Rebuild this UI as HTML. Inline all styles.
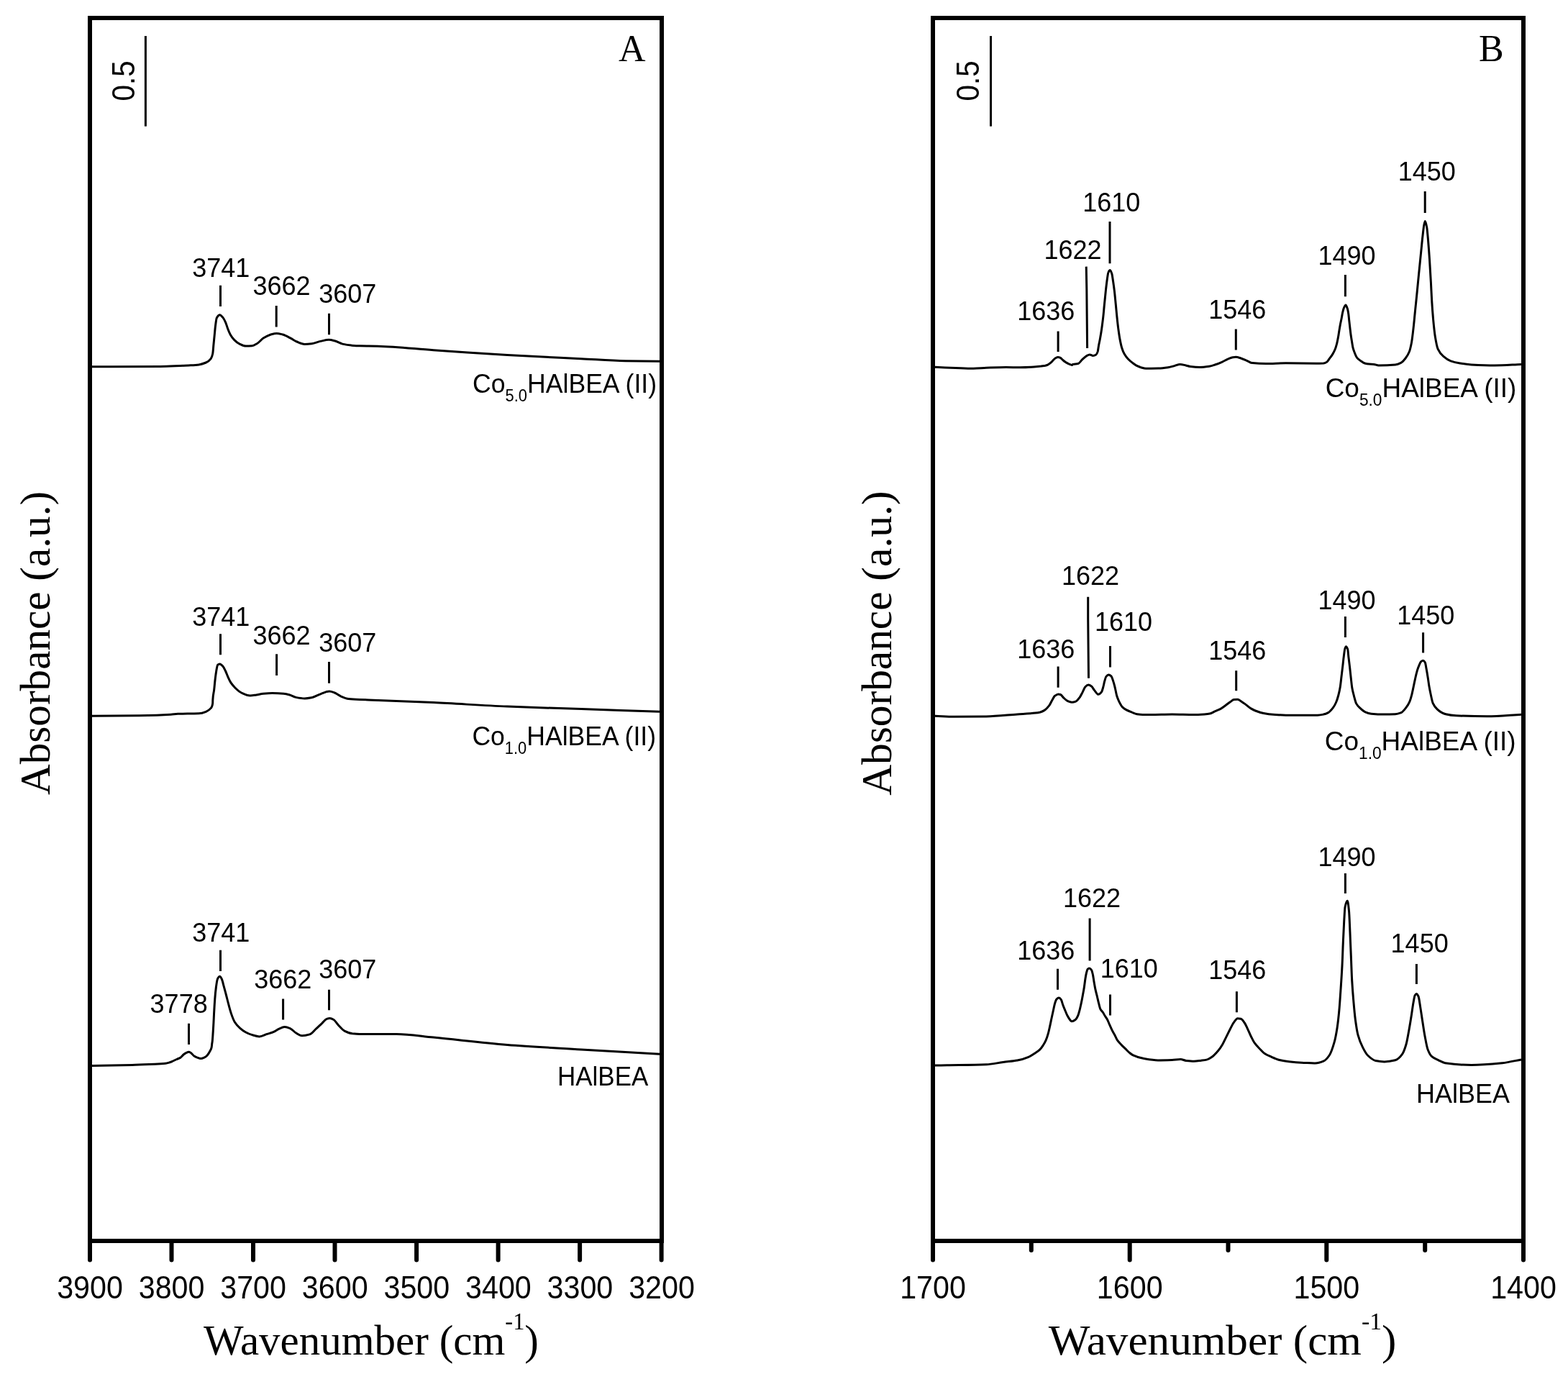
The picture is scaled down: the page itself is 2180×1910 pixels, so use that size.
<!DOCTYPE html>
<html><head><meta charset="utf-8"><title>IR spectra</title>
<style>
html,body{margin:0;padding:0;background:#fff;}
svg{display:block;}
.sans{font-family:"Liberation Sans",Arial,sans-serif;}
.serif{font-family:"Liberation Serif","Times New Roman",serif;}
</style></head><body>
<svg width="2180" height="1910" viewBox="0 0 2180 1910">
<rect x="0" y="0" width="2180" height="1910" fill="#fff"/>
<rect x="125" y="25" width="795" height="1700" fill="none" stroke="#000" stroke-width="6" stroke-linejoin="miter"/>
<rect x="1297" y="25" width="821" height="1700" fill="none" stroke="#000" stroke-width="6" stroke-linejoin="miter"/>
<path d="M125.0,1725V1751.5M238.5,1725V1751.5M352.0,1725V1751.5M465.5,1725V1751.5M579.1,1725V1751.5M692.6,1725V1751.5M806.1,1725V1751.5M919.6,1725V1751.5M1297.0,1725V1751.5M1570.7,1725V1751.5M1844.3,1725V1751.5M2118.0,1725V1751.5M1433.8,1725V1738M1707.5,1725V1738M1981.2,1725V1738" stroke="#000" stroke-width="6" stroke-linecap="round" fill="none"/>
<path d="M202.4,50V175.6" stroke="#000" stroke-width="3" fill="none"/>
<path d="M1377.5,50V175.6" stroke="#000" stroke-width="3" fill="none"/>
<path d="M306.5,396.7L306.5,426.0M384.2,425.0L384.2,454.4M457.5,435.8L457.5,465.2M306.5,881.2L306.5,910.2M384.6,909.2L384.6,939.0M457.5,920.0L457.5,949.7M262.5,1422.8L262.5,1452.1M306.5,1320.7L306.5,1350.0M393.6,1388.6L393.6,1417.5M457.5,1375.8L457.5,1404.2M1471.1,460.6L1471.1,489.0M1510.2,370.6L1510.8,401.9L1511.6,484.0M1543.0,308.0L1543.0,366.3M1718.3,457.4L1718.3,486.5M1870.4,382.1L1870.4,412.2M1981.2,265.9L1981.2,296.0M1471.1,926.5L1471.1,955.8M1512.7,829.7L1512.7,860.0L1513.5,942.7M1543.5,898.1L1543.5,927.5M1718.7,932.3L1718.7,960.3M1870.4,857.0L1870.4,886.0M1978.6,879.2L1978.6,907.6M1470.5,1346.8L1470.5,1375.7M1515.1,1276.4L1515.1,1335.6M1543.5,1382.6L1543.5,1411.5M1719.4,1378.3L1719.4,1407.3M1870.4,1214.1L1870.4,1242.1M1969.4,1340.0L1969.4,1367.9" stroke="#000" stroke-width="3" fill="none"/>
<path d="M128.0,509.8C159.6,509.7 191.2,509.7 222.8,509.4C231.9,509.3 240.9,508.9 250.0,508.6C254.1,508.4 258.1,508.2 262.2,508.0C267.0,507.7 271.8,507.5 276.6,506.9C279.9,506.5 283.1,505.4 286.4,504.0C288.7,503.0 290.9,501.7 293.2,498.6C294.0,497.5 294.9,495.5 295.7,491.7C296.2,489.6 296.6,482.3 297.1,477.5C297.5,473.4 297.9,469.3 298.3,465.2C298.7,461.1 299.1,456.1 299.5,453.0C300.1,448.3 300.7,443.1 301.3,442.0C302.7,439.3 304.2,437.7 305.6,437.7C307.0,437.7 308.5,439.7 309.9,441.4C311.1,442.9 312.4,445.3 313.6,448.1C314.6,450.3 315.6,454.1 316.6,456.7C317.8,459.9 319.1,463.1 320.3,465.2C322.1,468.4 324.0,470.8 325.8,472.6C328.2,475.0 330.7,476.9 333.1,478.1C336.0,479.5 338.8,481.1 341.7,481.1C344.5,481.1 347.4,481.0 350.2,480.8C352.7,480.6 355.1,478.9 357.6,477.5C360.4,475.8 363.3,471.9 366.1,470.1C369.4,468.0 372.6,466.2 375.9,465.2C378.8,464.4 381.6,463.4 384.5,463.4C387.3,463.4 390.2,464.3 393.0,465.0C396.7,466.0 400.3,468.2 404.0,470.1C406.9,471.6 409.7,473.8 412.6,475.0C416.3,476.5 419.9,478.4 423.6,478.4C426.9,478.4 430.1,478.1 433.4,477.7C437.5,477.2 441.5,475.3 445.6,474.4C449.5,473.6 453.3,472.3 457.2,472.3C459.9,472.3 462.5,473.1 465.2,473.8C468.9,474.7 472.5,477.2 476.2,478.1C480.3,479.0 484.3,479.7 488.4,480.1C492.3,480.4 496.1,480.7 500.0,480.8C508.3,481.0 516.7,481.0 525.0,481.2C550.9,481.8 576.8,484.9 602.7,486.7C636.9,489.0 671.2,491.5 705.4,493.5C739.6,495.5 773.8,497.0 808.0,498.7C828.6,499.7 849.1,501.4 869.7,501.7C885.5,502.0 901.2,502.0 917.0,502.2" stroke="#000" stroke-width="3" fill="none" stroke-linejoin="round"/>
<path d="M128.0,995.3C149.8,995.1 171.7,995.0 193.5,994.7C201.6,994.6 209.8,994.4 217.9,994.2C224.4,994.0 231.0,993.7 237.5,993.3C240.7,993.1 244.0,992.4 247.2,992.3C257.0,992.0 266.8,992.2 276.6,991.8C279.9,991.7 283.1,990.6 286.4,989.3C288.7,988.4 290.9,987.2 293.2,984.4C294.0,983.4 294.9,983.4 295.7,977.6C295.7,977.4 295.8,973.8 295.8,973.3C296.4,962.9 297.1,964.3 297.7,958.7C298.1,955.2 298.5,950.0 298.9,946.5C299.5,941.3 300.1,936.4 300.7,933.0C301.3,929.4 302.0,925.0 302.6,924.4C303.6,923.4 304.6,922.9 305.6,922.9C307.0,922.9 308.5,924.7 309.9,926.3C311.1,927.7 312.4,930.5 313.6,933.0C314.8,935.5 316.0,939.0 317.2,941.6C318.4,944.3 319.7,947.0 320.9,948.9C322.9,952.0 325.0,954.2 327.0,956.2C329.9,959.0 332.7,961.6 335.6,963.0C339.7,964.9 343.7,967.0 347.8,967.0C350.7,967.0 353.5,966.4 356.4,966.0C359.6,965.5 362.9,964.5 366.1,964.2C370.2,963.9 374.3,963.6 378.4,963.6C383.7,963.6 389.0,963.8 394.3,964.2C397.1,964.4 400.0,965.2 402.8,966.0C405.7,966.8 408.5,968.8 411.4,969.4C415.5,970.2 419.5,970.9 423.6,970.9C426.9,970.9 430.1,970.3 433.4,969.7C437.5,969.0 441.5,966.2 445.6,964.8C449.7,963.4 453.7,961.1 457.8,961.1C460.3,961.1 462.7,962.1 465.2,963.0C468.0,964.0 470.9,966.6 473.7,967.8C477.4,969.4 481.0,971.1 484.7,971.5C489.8,972.0 494.9,972.2 500.0,972.4C508.3,972.8 516.7,973.1 525.0,973.4C550.9,974.4 576.8,975.4 602.7,976.6C636.9,978.2 671.2,980.7 705.4,982.1C739.6,983.5 773.8,984.4 808.0,985.6C844.3,986.8 880.7,988.1 917.0,989.3" stroke="#000" stroke-width="3" fill="none" stroke-linejoin="round"/>
<path d="M128.0,1481.5C146.6,1481.2 165.1,1481.0 183.7,1480.5C189.1,1480.4 194.6,1480.0 200.0,1479.8C205.0,1479.6 210.1,1479.5 215.1,1479.3C220.1,1479.1 225.1,1478.9 230.1,1478.3C231.7,1478.1 233.4,1477.6 235.0,1477.1C236.8,1476.6 238.5,1475.8 240.3,1475.0C242.1,1474.2 243.9,1473.3 245.7,1472.5C247.5,1471.7 249.3,1471.2 251.1,1470.1C252.5,1469.2 254.0,1466.9 255.4,1465.8C256.7,1464.8 257.9,1464.0 259.2,1463.4C260.3,1462.9 261.3,1462.3 262.4,1462.3C263.5,1462.3 264.5,1463.1 265.6,1463.7C267.0,1464.6 268.5,1467.1 269.9,1468.0C271.3,1468.9 272.8,1469.6 274.2,1470.1C275.8,1470.7 277.5,1471.5 279.1,1471.5C280.7,1471.5 282.3,1470.8 283.9,1470.1C285.3,1469.5 286.8,1468.4 288.2,1466.9C289.5,1465.6 290.7,1463.4 292.0,1461.0C292.7,1459.7 293.4,1458.9 294.1,1456.1C294.4,1455.1 294.6,1451.3 294.9,1449.7C295.0,1449.3 295.0,1449.1 295.1,1448.7C295.6,1445.2 296.2,1434.9 296.7,1426.1C297.1,1420.0 297.4,1411.1 297.8,1404.6C298.1,1398.7 298.5,1392.6 298.8,1388.4C299.3,1381.7 299.9,1376.1 300.4,1372.3C301.1,1367.1 301.9,1361.8 302.6,1360.4C303.6,1358.6 304.6,1357.2 305.6,1357.2C306.6,1357.2 307.5,1359.5 308.5,1361.5C309.4,1363.4 310.3,1367.9 311.2,1371.2C312.3,1375.1 313.3,1379.0 314.4,1383.0C315.5,1387.2 316.6,1391.8 317.7,1395.9C318.9,1400.5 320.2,1405.3 321.4,1408.9C323.0,1413.6 324.7,1418.1 326.3,1420.7C328.8,1424.7 331.3,1427.1 333.8,1429.3C336.3,1431.5 338.8,1433.3 341.3,1434.7C344.2,1436.3 347.0,1437.5 349.9,1438.4C353.5,1439.5 357.1,1440.9 360.7,1440.9C364.3,1440.9 367.8,1438.5 371.4,1437.4C374.3,1436.5 377.1,1435.9 380.0,1434.7C382.5,1433.7 385.1,1431.5 387.6,1430.4C390.3,1429.2 393.0,1427.6 395.7,1427.6C398.4,1427.6 401.0,1428.7 403.7,1429.8C406.2,1430.8 408.8,1434.3 411.3,1435.8C414.2,1437.5 417.0,1439.8 419.9,1439.8C423.5,1439.8 427.0,1439.0 430.6,1437.9C433.5,1437.0 436.3,1433.0 439.2,1430.4C442.1,1427.8 444.9,1424.9 447.8,1422.3C450.0,1420.3 452.1,1417.1 454.3,1416.4C455.7,1415.9 457.2,1415.5 458.6,1415.5C460.4,1415.5 462.2,1416.5 464.0,1417.5C466.1,1418.7 468.3,1422.8 470.4,1425.0C473.3,1428.0 476.1,1431.6 479.0,1433.1C482.6,1434.9 486.2,1436.4 489.8,1436.8C493.2,1437.1 496.6,1437.4 500.0,1437.4C508.3,1437.5 516.7,1437.5 525.0,1437.5C533.8,1437.5 542.5,1437.4 551.3,1437.4C568.4,1437.4 585.6,1440.5 602.7,1442.1C636.9,1445.4 671.2,1449.7 705.4,1452.4C739.6,1455.1 773.8,1456.8 808.0,1458.9C844.3,1461.1 880.7,1463.2 917.0,1465.3" stroke="#000" stroke-width="3" fill="none" stroke-linejoin="round"/>
<path d="M1300.0,510.3C1309.4,510.7 1318.9,511.1 1328.3,511.4C1336.6,511.7 1345.0,512.2 1353.3,512.2C1359.3,512.2 1365.3,511.5 1371.3,511.3C1380.4,511.0 1389.6,510.6 1398.7,510.6C1405.2,510.6 1411.8,510.8 1418.3,510.8C1423.5,510.8 1428.8,510.6 1434.0,510.3C1438.4,510.1 1442.8,509.5 1447.2,509.1C1448.7,508.9 1450.3,508.8 1451.8,508.6C1453.4,508.3 1455.1,507.8 1456.7,507.1C1458.0,506.5 1459.3,505.5 1460.6,504.4C1461.7,503.5 1462.9,502.1 1464.0,501.0C1465.1,499.9 1466.3,498.4 1467.4,497.8C1468.6,497.2 1469.7,496.5 1470.9,496.5C1472.0,496.5 1473.2,496.9 1474.3,497.4C1475.4,497.9 1476.6,499.6 1477.7,500.5C1479.0,501.6 1480.3,502.7 1481.6,503.5C1483.1,504.4 1484.5,505.3 1486.0,505.9C1487.5,506.5 1489.0,507.4 1490.5,507.4C1490.9,507.4 1491.4,506.5 1491.8,506.4C1494.2,505.8 1496.5,506.1 1498.9,505.5C1500.7,505.1 1502.5,501.9 1504.3,500.2C1506.4,498.3 1508.4,495.9 1510.5,494.8C1512.0,494.0 1513.5,493.0 1515.0,493.0C1516.5,493.0 1518.0,494.4 1519.5,494.4C1521.0,494.4 1522.4,493.9 1523.9,493.0C1524.7,492.5 1525.4,491.0 1526.2,488.6C1526.6,487.3 1527.1,482.9 1527.5,480.5C1528.1,477.2 1528.7,474.9 1529.3,471.6C1530.0,467.6 1530.8,463.2 1531.5,458.2C1532.3,453.0 1533.0,447.3 1533.8,440.4C1534.4,435.3 1534.9,428.3 1535.5,422.5C1536.1,416.4 1536.7,410.1 1537.3,404.6C1537.9,399.1 1538.5,393.7 1539.1,389.5C1539.7,385.3 1540.3,380.1 1540.9,378.8C1541.7,376.9 1542.6,375.5 1543.4,375.5C1544.2,375.5 1545.0,378.0 1545.8,380.5C1546.4,382.4 1547.0,387.3 1547.6,391.3C1548.2,395.3 1548.8,399.5 1549.4,404.6C1550.0,409.7 1550.6,416.4 1551.2,422.5C1551.8,428.3 1552.3,434.9 1552.9,440.4C1553.5,446.2 1554.1,451.8 1554.7,456.4C1555.5,462.2 1556.2,467.5 1557.0,471.6C1557.9,476.2 1558.7,480.4 1559.6,483.2C1560.8,487.1 1562.0,490.0 1563.2,492.1C1565.0,495.3 1566.8,497.4 1568.6,499.3C1570.7,501.5 1572.7,503.0 1574.8,504.6C1576.5,505.9 1578.3,507.3 1580.0,508.2C1582.3,509.4 1584.7,510.4 1587.0,511.0C1589.1,511.6 1591.1,512.3 1593.2,512.3C1599.1,512.3 1604.9,512.2 1610.8,512.1C1615.2,512.0 1619.6,511.4 1624.0,510.8C1626.9,510.4 1629.9,509.4 1632.8,508.6C1635.4,507.9 1638.1,506.4 1640.7,506.4C1643.4,506.4 1646.0,507.4 1648.7,508.0C1650.7,508.5 1652.8,509.3 1654.8,509.5C1659.2,510.0 1663.6,510.4 1668.0,510.4C1672.4,510.4 1676.8,509.8 1681.2,509.2C1684.1,508.8 1687.1,507.7 1690.0,506.8C1692.9,505.9 1695.9,504.6 1698.8,503.3C1701.7,502.0 1704.7,500.1 1707.6,498.9C1709.7,498.1 1711.7,497.0 1713.8,496.7C1715.3,496.5 1716.7,496.3 1718.2,496.3C1720.5,496.3 1722.9,497.3 1725.2,498.0C1728.1,498.9 1731.1,500.4 1734.0,501.6C1736.4,502.6 1738.7,504.4 1741.1,504.6C1747.4,505.2 1753.7,505.5 1760.0,505.5C1769.2,505.5 1778.4,504.8 1787.6,504.8C1801.7,504.8 1815.9,505.2 1830.0,505.2C1833.3,505.2 1836.7,505.1 1840.0,505.0C1841.6,504.9 1843.1,504.1 1844.7,503.2C1846.1,502.4 1847.4,499.7 1848.8,497.9C1850.2,496.1 1851.5,494.4 1852.9,492.1C1854.1,490.1 1855.2,488.0 1856.4,485.0C1857.2,483.0 1857.9,480.4 1858.7,477.4C1859.3,475.0 1859.9,471.9 1860.5,468.6C1861.0,466.0 1861.4,462.6 1861.9,459.8C1862.4,456.8 1862.9,453.7 1863.4,451.0C1864.0,447.8 1864.6,445.3 1865.2,442.2C1865.7,439.8 1866.1,436.7 1866.6,434.6C1867.1,432.3 1867.6,430.0 1868.1,428.8C1869.1,426.5 1870.0,424.1 1871.0,424.1C1871.8,424.1 1872.6,426.8 1873.4,429.3C1873.9,430.8 1874.3,433.2 1874.8,436.4C1875.1,438.5 1875.4,442.4 1875.7,445.2C1876.1,448.9 1876.5,452.3 1876.9,455.7C1877.3,459.1 1877.7,462.8 1878.1,465.7C1878.6,469.1 1879.0,471.7 1879.5,474.5C1880.0,477.5 1880.5,481.3 1881.0,483.3C1881.8,486.4 1882.5,488.3 1883.3,490.3C1884.3,492.9 1885.3,495.5 1886.3,496.8C1888.0,499.1 1889.8,500.1 1891.5,501.4C1893.5,502.8 1895.4,504.4 1897.4,505.0C1899.4,505.6 1901.3,506.0 1903.3,506.1C1905.5,506.3 1907.8,506.2 1910.0,506.4C1912.2,506.6 1914.5,508.0 1916.7,508.0C1924.5,508.0 1932.2,507.7 1940.0,507.0C1942.6,506.8 1945.1,505.7 1947.7,504.4C1949.8,503.3 1952.0,500.7 1954.1,498.0C1955.8,495.8 1957.6,493.3 1959.3,489.0C1960.4,486.3 1961.4,481.9 1962.5,476.2C1963.3,471.8 1964.2,464.1 1965.0,456.9C1965.9,449.4 1966.7,439.8 1967.6,431.2C1968.5,422.6 1969.3,414.2 1970.2,405.5C1971.0,397.1 1971.9,388.3 1972.7,379.9C1973.6,371.2 1974.4,362.8 1975.3,354.2C1976.2,345.6 1977.0,336.2 1977.9,328.5C1978.5,322.9 1979.2,316.3 1979.8,313.1C1980.3,310.6 1980.8,307.5 1981.3,307.5C1982.1,307.5 1982.9,311.5 1983.7,315.7C1984.3,319.0 1985.0,327.6 1985.6,334.9C1986.2,342.2 1986.9,351.1 1987.5,360.6C1988.1,370.1 1988.8,381.1 1989.4,392.7C1989.8,400.6 1990.3,411.4 1990.7,418.4C1991.3,428.7 1992.0,437.2 1992.6,444.1C1993.5,453.5 1994.3,461.8 1995.2,467.2C1996.5,475.2 1997.8,482.2 1999.1,485.1C2001.7,490.8 2004.2,493.2 2006.8,495.4C2010.2,498.4 2013.6,500.6 2017.0,501.8C2021.3,503.4 2025.7,504.3 2030.0,505.0C2035.2,505.9 2040.5,506.6 2045.7,506.9C2056.5,507.5 2067.2,508.0 2078.0,508.0C2090.3,508.0 2102.7,507.0 2115.0,506.5" stroke="#000" stroke-width="3" fill="none" stroke-linejoin="round"/>
<path d="M1300.0,995.3C1308.8,995.6 1317.5,996.3 1326.3,996.3C1341.3,996.3 1356.3,996.1 1371.3,995.9C1385.7,995.7 1400.0,994.0 1414.4,993.0C1422.9,992.4 1431.5,992.1 1440.0,991.1C1442.1,990.9 1444.2,990.5 1446.3,990.0C1448.1,989.5 1449.9,988.7 1451.7,987.6C1454.1,986.2 1456.4,983.7 1458.8,980.6C1460.1,978.9 1461.4,975.7 1462.7,973.5C1464.0,971.3 1465.3,968.3 1466.6,967.3C1468.2,966.1 1469.7,964.9 1471.3,964.9C1472.3,964.9 1473.4,965.2 1474.4,965.5C1476.0,966.0 1477.5,969.0 1479.1,970.4C1480.9,972.0 1482.8,973.9 1484.6,974.7C1486.4,975.5 1488.3,976.3 1490.1,976.3C1491.9,976.3 1493.8,975.8 1495.6,975.1C1497.4,974.5 1499.2,972.0 1501.0,969.6C1502.3,967.9 1503.6,965.0 1504.9,962.6C1506.2,960.1 1507.6,956.0 1508.9,954.7C1510.3,953.3 1511.8,952.0 1513.2,952.0C1514.6,952.0 1516.1,953.0 1517.5,954.0C1518.8,954.9 1520.1,957.8 1521.4,959.4C1523.2,961.6 1525.1,965.3 1526.9,965.3C1528.4,965.3 1530.0,963.8 1531.5,961.8C1532.3,960.8 1533.1,957.6 1533.9,954.7C1534.4,952.8 1535.0,949.7 1535.5,947.7C1536.3,944.9 1537.0,941.6 1537.8,940.6C1539.0,939.1 1540.1,937.9 1541.3,937.9C1542.5,937.9 1543.7,938.8 1544.9,939.9C1545.9,940.9 1547.0,944.6 1548.0,947.7C1548.8,950.0 1549.5,953.1 1550.3,956.3C1551.1,959.6 1551.9,964.7 1552.7,967.3C1553.7,970.7 1554.8,973.0 1555.8,975.1C1557.4,978.3 1558.9,981.3 1560.5,982.9C1562.1,984.5 1563.6,985.5 1565.2,986.4C1567.8,987.9 1570.4,988.9 1573.0,989.9C1575.6,990.9 1578.2,992.3 1580.8,992.7C1583.4,993.1 1586.1,993.5 1588.7,993.5C1592.5,993.5 1596.2,993.5 1600.0,993.5C1609.8,993.5 1619.7,993.0 1629.5,993.0C1639.7,993.0 1649.8,993.5 1660.0,993.5C1664.7,993.5 1669.4,993.2 1674.1,992.9C1676.7,992.7 1679.4,992.5 1682.0,992.0C1684.3,991.6 1686.7,989.9 1689.0,988.9C1691.7,987.7 1694.3,986.8 1697.0,985.4C1699.3,984.1 1701.7,982.2 1704.0,980.5C1706.4,978.8 1708.7,976.7 1711.1,975.2C1712.6,974.2 1714.0,972.8 1715.5,972.6C1717.2,972.4 1719.0,972.3 1720.7,972.3C1722.5,972.3 1724.2,974.1 1726.0,975.2C1728.1,976.5 1730.1,978.1 1732.2,979.6C1734.5,981.3 1736.9,983.5 1739.2,984.9C1741.3,986.1 1743.3,987.2 1745.4,988.0C1749.2,989.5 1753.0,990.8 1756.8,991.5C1761.2,992.3 1765.6,993.0 1770.0,993.3C1775.9,993.7 1781.7,994.2 1787.6,994.2C1794.9,994.2 1802.3,994.2 1809.6,994.2C1817.0,994.2 1824.3,994.2 1831.7,994.2C1834.5,994.2 1837.2,993.7 1840.0,993.1C1842.2,992.7 1844.5,991.8 1846.7,990.6C1848.9,989.4 1851.1,986.8 1853.3,983.9C1854.7,982.1 1856.1,979.7 1857.5,976.5C1858.6,974.0 1859.7,970.6 1860.8,966.5C1861.6,963.4 1862.5,959.9 1863.3,954.8C1863.8,951.5 1864.4,945.9 1864.9,941.5C1865.5,936.8 1866.0,932.2 1866.6,927.4C1867.2,922.6 1867.7,916.7 1868.3,912.4C1868.8,908.3 1869.4,903.2 1869.9,901.6C1870.4,900.1 1870.9,898.7 1871.4,898.7C1872.2,898.7 1872.9,900.2 1873.7,902.5C1874.1,903.7 1874.5,909.8 1874.9,913.3C1875.5,918.2 1876.0,922.4 1876.6,927.4C1877.1,932.1 1877.7,937.7 1878.2,942.4C1878.8,947.4 1879.3,953.2 1879.9,956.5C1880.7,961.3 1881.6,964.2 1882.4,967.3C1883.5,971.4 1884.6,976.1 1885.7,978.1C1887.6,981.6 1889.6,983.0 1891.5,984.8C1893.7,986.8 1896.0,988.9 1898.2,989.8C1901.0,991.0 1903.7,991.9 1906.5,992.2C1912.0,992.7 1917.6,993.1 1923.1,993.1C1928.7,993.1 1934.2,993.0 1939.8,992.7C1942.6,992.6 1945.3,991.7 1948.1,990.6C1950.3,989.7 1952.5,986.7 1954.7,983.9C1956.4,981.8 1958.0,979.4 1959.7,975.6C1960.8,973.1 1961.9,969.1 1963.0,964.8C1963.8,961.6 1964.7,957.1 1965.5,953.2C1966.3,949.3 1967.2,945.1 1968.0,941.5C1968.8,937.9 1969.7,934.3 1970.5,931.6C1971.3,928.9 1972.2,926.8 1973.0,924.9C1973.8,923.0 1974.7,920.6 1975.5,919.9C1976.5,919.1 1977.4,918.3 1978.4,918.3C1979.4,918.3 1980.3,919.3 1981.3,920.8C1981.9,921.7 1982.4,926.1 1983.0,929.1C1983.7,932.8 1984.4,937.1 1985.1,941.5C1985.8,945.7 1986.4,951.0 1987.1,954.8C1987.9,959.6 1988.8,963.6 1989.6,967.3C1990.4,971.0 1991.3,975.4 1992.1,977.3C1994.0,981.6 1996.0,983.7 1997.9,985.6C2000.1,987.8 2002.4,989.5 2004.6,990.6C2006.4,991.5 2008.2,992.3 2010.0,992.7C2014.7,993.8 2019.5,994.5 2024.2,994.7C2038.6,995.4 2052.9,995.8 2067.3,995.8C2083.2,995.8 2099.1,994.1 2115.0,993.2" stroke="#000" stroke-width="3" fill="none" stroke-linejoin="round"/>
<path d="M1300.0,1481.0C1305.5,1480.9 1311.1,1480.9 1316.6,1480.8C1334.8,1480.5 1353.1,1480.5 1371.3,1479.8C1379.1,1479.5 1387.0,1477.5 1394.8,1476.5C1401.3,1475.6 1407.9,1475.3 1414.4,1474.1C1419.6,1473.2 1424.8,1471.6 1430.0,1469.4C1432.6,1468.3 1435.2,1466.4 1437.8,1464.7C1440.4,1463.0 1443.0,1461.7 1445.6,1459.2C1447.2,1457.7 1448.7,1455.4 1450.3,1453.0C1451.6,1451.0 1452.9,1448.9 1454.2,1445.9C1455.2,1443.5 1456.3,1440.3 1457.3,1436.6C1458.1,1433.8 1458.9,1430.0 1459.7,1426.4C1460.5,1423.0 1461.2,1419.1 1462.0,1415.5C1462.8,1411.8 1463.6,1408.1 1464.4,1404.5C1465.2,1401.1 1465.9,1396.7 1466.7,1394.4C1467.5,1392.0 1468.3,1389.7 1469.1,1388.9C1470.1,1387.9 1471.2,1387.0 1472.2,1387.0C1473.2,1387.0 1474.3,1388.3 1475.3,1389.7C1476.1,1390.8 1476.9,1394.5 1477.7,1396.7C1478.7,1399.5 1479.8,1402.1 1480.8,1404.5C1482.1,1407.6 1483.4,1411.0 1484.7,1413.1C1486.5,1416.0 1488.4,1419.8 1490.2,1419.8C1491.7,1419.8 1493.3,1418.9 1494.8,1417.8C1496.1,1416.9 1497.5,1414.5 1498.8,1411.6C1499.6,1409.9 1500.3,1406.7 1501.1,1403.8C1501.9,1400.9 1502.6,1397.2 1503.4,1393.6C1504.1,1390.4 1504.7,1387.0 1505.4,1383.4C1506.0,1380.0 1506.7,1376.6 1507.3,1372.5C1507.8,1369.1 1508.4,1364.1 1508.9,1360.8C1509.4,1357.5 1510.0,1354.3 1510.5,1352.2C1511.0,1350.2 1511.5,1348.1 1512.0,1347.5C1512.8,1346.6 1513.6,1345.9 1514.4,1345.9C1515.4,1345.9 1516.5,1346.9 1517.5,1348.3C1518.2,1349.2 1518.8,1352.3 1519.5,1355.3C1520.0,1357.6 1520.5,1361.8 1521.0,1364.7C1521.7,1368.6 1522.3,1372.5 1523.0,1375.6C1523.8,1379.2 1524.5,1381.8 1525.3,1385.0C1526.1,1388.3 1526.9,1392.2 1527.7,1395.2C1528.5,1398.1 1529.2,1401.6 1530.0,1403.0C1531.0,1404.9 1532.1,1405.4 1533.1,1406.9C1534.2,1408.4 1535.2,1410.6 1536.3,1412.3C1537.3,1414.0 1538.4,1415.1 1539.4,1417.0C1540.4,1418.9 1541.5,1421.8 1542.5,1424.1C1543.8,1427.0 1545.1,1430.1 1546.4,1432.7C1547.7,1435.3 1549.0,1437.2 1550.3,1439.7C1551.3,1441.7 1552.4,1444.4 1553.4,1445.9C1555.2,1448.6 1557.1,1450.2 1558.9,1452.2C1560.7,1454.2 1562.6,1455.9 1564.4,1457.7C1566.3,1459.5 1568.1,1461.5 1570.0,1463.1C1571.6,1464.4 1573.2,1465.9 1574.8,1466.7C1580.0,1469.2 1585.2,1470.7 1590.4,1471.6C1596.9,1472.7 1603.5,1473.9 1610.0,1473.9C1616.5,1473.9 1623.0,1473.7 1629.5,1473.5C1633.4,1473.4 1637.4,1472.5 1641.3,1472.5C1643.9,1472.5 1646.5,1474.2 1649.1,1474.5C1652.7,1474.9 1656.4,1475.3 1660.0,1475.3C1662.9,1475.3 1665.9,1474.8 1668.8,1474.4C1671.7,1474.0 1674.7,1473.8 1677.6,1473.1C1679.9,1472.6 1682.3,1471.1 1684.6,1469.5C1687.6,1467.5 1690.5,1464.2 1693.5,1460.7C1695.5,1458.3 1697.6,1455.3 1699.6,1451.9C1701.4,1448.9 1703.1,1444.9 1704.9,1441.4C1706.7,1437.9 1708.4,1434.2 1710.2,1430.8C1712.0,1427.4 1713.7,1423.4 1715.5,1421.1C1717.2,1418.8 1719.0,1415.8 1720.7,1415.8C1722.2,1415.8 1723.6,1416.0 1725.1,1416.3C1726.9,1416.7 1728.6,1419.5 1730.4,1422.0C1731.9,1424.1 1733.3,1427.7 1734.8,1430.8C1736.3,1433.9 1737.7,1437.6 1739.2,1440.5C1741.0,1444.0 1742.7,1447.7 1744.5,1450.2C1746.6,1453.1 1748.6,1455.1 1750.7,1457.2C1753.3,1459.9 1756.0,1463.0 1758.6,1464.7C1761.5,1466.6 1764.5,1467.8 1767.4,1469.1C1771.2,1470.8 1775.0,1472.6 1778.8,1473.5C1783.2,1474.5 1787.6,1475.2 1792.0,1475.7C1797.9,1476.4 1803.7,1477.0 1809.6,1477.3C1815.5,1477.6 1821.4,1477.5 1827.3,1477.9C1827.7,1477.9 1828.1,1478.1 1828.5,1478.1C1832.3,1478.1 1836.2,1476.8 1840.0,1475.2C1842.7,1474.1 1845.5,1471.0 1848.2,1467.0C1850.5,1463.7 1852.7,1457.2 1855.0,1449.2C1856.4,1444.4 1857.7,1437.6 1859.1,1428.7C1860.0,1422.6 1861.0,1414.2 1861.9,1404.1C1862.6,1396.9 1863.2,1386.7 1863.9,1376.8C1864.6,1366.4 1865.3,1356.5 1866.0,1342.6C1866.5,1333.4 1866.9,1319.0 1867.4,1308.4C1867.8,1298.6 1868.3,1288.5 1868.7,1281.0C1869.2,1272.9 1869.6,1262.7 1870.1,1260.5C1871.2,1255.4 1872.2,1252.3 1873.3,1252.3C1874.1,1252.3 1874.8,1259.3 1875.6,1267.4C1876.0,1272.0 1876.5,1284.9 1876.9,1294.7C1877.4,1305.2 1877.8,1317.5 1878.3,1328.9C1878.8,1340.3 1879.2,1354.8 1879.7,1363.1C1880.4,1375.0 1881.0,1382.6 1881.7,1390.4C1882.6,1401.0 1883.5,1411.0 1884.4,1417.8C1885.6,1426.6 1886.7,1433.9 1887.9,1438.3C1890.2,1446.9 1892.4,1451.6 1894.7,1456.1C1897.0,1460.6 1899.2,1464.8 1901.5,1467.0C1905.2,1470.6 1908.8,1473.8 1912.5,1474.5C1916.6,1475.3 1920.7,1475.9 1924.8,1475.9C1929.8,1475.9 1934.8,1475.1 1939.8,1473.8C1943.0,1473.0 1946.2,1469.9 1949.4,1465.6C1951.2,1463.2 1953.1,1458.2 1954.9,1452.0C1956.3,1447.4 1957.6,1439.0 1959.0,1431.5C1960.1,1425.3 1961.3,1418.0 1962.4,1410.9C1963.3,1405.2 1964.2,1398.0 1965.1,1393.2C1965.8,1389.5 1966.5,1384.8 1967.2,1383.6C1967.9,1382.5 1968.5,1381.5 1969.2,1381.5C1970.1,1381.5 1971.1,1383.1 1972.0,1385.0C1972.9,1386.8 1973.8,1394.6 1974.7,1400.0C1975.6,1405.4 1976.5,1412.0 1977.4,1417.8C1978.6,1425.3 1979.7,1433.4 1980.9,1439.7C1982.3,1447.0 1983.6,1455.2 1985.0,1458.8C1986.8,1463.5 1988.6,1466.8 1990.4,1468.4C1993.6,1471.3 1996.8,1472.3 2000.0,1473.8C2003.1,1475.3 2006.1,1477.2 2009.2,1477.7C2021.4,1479.5 2033.5,1480.5 2045.7,1480.5C2060.1,1480.5 2074.4,1479.1 2088.8,1477.7C2097.5,1476.8 2106.3,1474.5 2115.0,1472.9" stroke="#000" stroke-width="3" fill="none" stroke-linejoin="round"/>
<text class="sans" font-size="36" transform="translate(267.3,384.6)">3741</text>
<text class="sans" font-size="36" transform="translate(351.4,410.4)">3662</text>
<text class="sans" font-size="36" transform="translate(443.3,421.4)">3607</text>
<text class="sans" font-size="36" transform="translate(267.3,869.7)">3741</text>
<text class="sans" font-size="36" transform="translate(351.4,895.5)">3662</text>
<text class="sans" font-size="36" transform="translate(443.3,905.5)">3607</text>
<text class="sans" font-size="36" transform="translate(208.6,1408.3)">3778</text>
<text class="sans" font-size="36" transform="translate(267.3,1308.9)">3741</text>
<text class="sans" font-size="36" transform="translate(353.3,1373.5)">3662</text>
<text class="sans" font-size="36" transform="translate(443.3,1360.2)">3607</text>
<text class="sans" font-size="36" transform="translate(1414.3,444.6)">1636</text>
<text class="sans" font-size="36" transform="translate(1451.5,359.5)">1622</text>
<text class="sans" font-size="36" transform="translate(1505.3,293.5)">1610</text>
<text class="sans" font-size="36" transform="translate(1680.2,443.0)">1546</text>
<text class="sans" font-size="36" transform="translate(1832.5,367.7)">1490</text>
<text class="sans" font-size="36" transform="translate(1943.7,250.5)">1450</text>
<text class="sans" font-size="36" transform="translate(1414.3,915.3)">1636</text>
<text class="sans" font-size="36" transform="translate(1475.9,812.6)">1622</text>
<text class="sans" font-size="36" transform="translate(1521.9,876.8)">1610</text>
<text class="sans" font-size="36" transform="translate(1680.2,916.9)">1546</text>
<text class="sans" font-size="36" transform="translate(1832.5,846.5)">1490</text>
<text class="sans" font-size="36" transform="translate(1942.2,867.6)">1450</text>
<text class="sans" font-size="36" transform="translate(1414.3,1334.2)">1636</text>
<text class="sans" font-size="36" transform="translate(1477.9,1260.5)">1622</text>
<text class="sans" font-size="36" transform="translate(1529.7,1358.7)">1610</text>
<text class="sans" font-size="36" transform="translate(1680.2,1360.6)">1546</text>
<text class="sans" font-size="36" transform="translate(1832.5,1203.6)">1490</text>
<text class="sans" font-size="36" transform="translate(1933.6,1324.1)">1450</text>
<text class="sans" font-size="44" transform="translate(125.0,1804.6) scale(0.937,1)" text-anchor="middle">3900</text>
<text class="sans" font-size="44" transform="translate(238.6,1804.6) scale(0.937,1)" text-anchor="middle">3800</text>
<text class="sans" font-size="44" transform="translate(352.1,1804.6) scale(0.937,1)" text-anchor="middle">3700</text>
<text class="sans" font-size="44" transform="translate(465.7,1804.6) scale(0.937,1)" text-anchor="middle">3600</text>
<text class="sans" font-size="44" transform="translate(579.3,1804.6) scale(0.937,1)" text-anchor="middle">3500</text>
<text class="sans" font-size="44" transform="translate(692.9,1804.6) scale(0.937,1)" text-anchor="middle">3400</text>
<text class="sans" font-size="44" transform="translate(806.4,1804.6) scale(0.937,1)" text-anchor="middle">3300</text>
<text class="sans" font-size="44" transform="translate(920.0,1804.6) scale(0.937,1)" text-anchor="middle">3200</text>
<text class="sans" font-size="44" transform="translate(1297.0,1804.6) scale(0.937,1)" text-anchor="middle">1700</text>
<text class="sans" font-size="44" transform="translate(1570.7,1804.6) scale(0.937,1)" text-anchor="middle">1600</text>
<text class="sans" font-size="44" transform="translate(1844.3,1804.6) scale(0.937,1)" text-anchor="middle">1500</text>
<text class="sans" font-size="44" transform="translate(2118.0,1804.6) scale(0.937,1)" text-anchor="middle">1400</text>
<text class="sans" font-size="44" transform="translate(186.9,140.5) rotate(-90) scale(0.920,1)">0.5</text>
<text class="sans" font-size="44" transform="translate(1360.8,140.5) rotate(-90) scale(0.920,1)">0.5</text>
<text class="serif" font-size="52" transform="translate(860.0,85.0)">A</text>
<text class="serif" font-size="52" transform="translate(2056.0,85.0)">B</text>
<text class="serif" font-size="60" transform="translate(69.0,1105.0) rotate(-90) scale(0.986,1)">Absorbance (a.u.)</text>
<text class="serif" font-size="60" transform="translate(1239.0,1105.8) rotate(-90) scale(0.989,1)">Absorbance (a.u.)</text>
<text class="serif" font-size="60" transform="translate(283.0,1883.4) scale(0.983,1)">Wavenumber (cm<tspan font-size="33" dy="-35">-1</tspan><tspan dy="35">)</tspan></text>
<text class="serif" font-size="60" transform="translate(1457.8,1883.4) scale(1.020,1)">Wavenumber (cm<tspan font-size="33" dy="-35">-1</tspan><tspan dy="35">)</tspan></text>
<text class="sans" font-size="37.4" transform="translate(657.1,545.9) scale(0.952,1)">Co<tspan font-size="23" dy="12">5.0</tspan><tspan dy="-12">HAlBEA (II)</tspan></text>
<text class="sans" font-size="37.4" transform="translate(656.4,1035.5) scale(0.951,1)">Co<tspan font-size="23" dy="12">1.0</tspan><tspan dy="-12">HAlBEA (II)</tspan></text>
<text class="sans" font-size="37.4" transform="translate(1842.7,551.8) scale(0.988,1)">Co<tspan font-size="23" dy="12">5.0</tspan><tspan dy="-12">HAlBEA (II)</tspan></text>
<text class="sans" font-size="37.4" transform="translate(1841.7,1042.7) scale(0.989,1)">Co<tspan font-size="23" dy="12">1.0</tspan><tspan dy="-12">HAlBEA (II)</tspan></text>
<text class="sans" font-size="37.4" transform="translate(775.0,1508.9) scale(0.935,1)">HAlBEA</text>
<text class="sans" font-size="37.4" transform="translate(1969.1,1532.5) scale(0.962,1)">HAlBEA</text>
</svg></body></html>
